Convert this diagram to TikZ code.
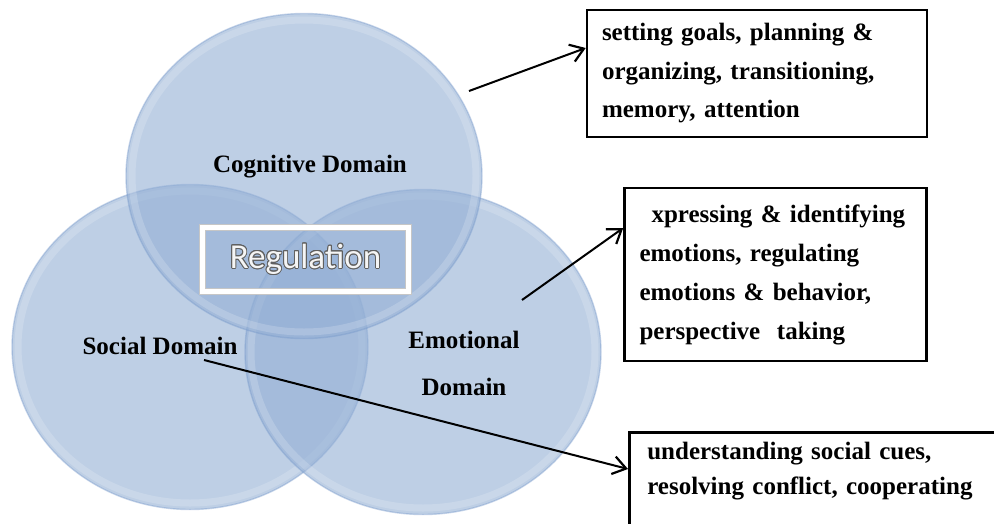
\documentclass[tikz,border=0pt]{standalone}
\usepackage{fontspec}
\setmainfont{Liberation Serif}
\newfontfamily\calibrifont{Carlito}
\usepackage[copies]{contour}
\usetikzlibrary{arrows.meta,shapes.geometric}
\definecolor{domainblue}{RGB}{147,175,213}
\definecolor{rimblue}{RGB}{118,152,202}
\contourlength{0.9pt}
\begin{document}
\begin{tikzpicture}[x=1pt,y=-1pt,>={Straight Barb[length=13pt,width=18pt,line width=2.2pt]},
	domaincircle/.style={ellipse,minimum width=356pt,minimum height=325pt,fill=domainblue,fill opacity=0.6,draw=rimblue,draw opacity=0.4,line width=1.4pt,
		path picture={\draw[white,draw opacity=0.18,line width=7pt] (path picture bounding box.center) ellipse (172 and 156);}},
	domainname/.style={font=\fontsize{25}{47}\selectfont\bfseries,align=center},
	skillbox/.style={draw,line width=2.6pt,font=\fontsize{25}{38.5}\selectfont\bfseries,align=left,inner xsep=15pt},
	pointer/.style={->,line width=2pt}]
	\useasboundingbox (0,0) rectangle (994,523);
	\fill[white] (0,0) rectangle (994,523);
	% the three domains
	\node[domaincircle] (soc) at (190,347) {};
	\node[domaincircle] (emo) at (423,352) {};
	\node[domaincircle] (cog) at (304,176) {};
	\node[domainname] (cogname) at (310,166.5) {Cognitive Domain};
	\node[domainname] (socname) at (160,345.5) {Social Domain};
	\node[domainname] (emoname) at (464,363) {Emotional\\Domain};
	% regulation in the middle
	\node[draw=gray!45,double=white,double distance=5pt,line width=0.8pt,minimum width=206pt,minimum height=64pt,
		font=\calibrifont\fontsize{35}{40}\selectfont] (reg) at (305.5,259.5) {\contour{gray!75!black}{\textcolor{gray!8}{Regulation}}};
	% skills
	\node[skillbox,text width=310pt,minimum height=127pt] (goals) at (757,73.5)
		{setting goals, planning \&\\organizing, transitioning,\\memory, attention};
	\node[skillbox,text width=272pt,minimum height=173pt,font=\fontsize{25}{39}\selectfont\bfseries] (feelings) at (775.5,274.5)
		{\hspace*{12pt}xpressing \& identifying\\emotions, regulating\\emotions \& behavior,\\perspective\ \ taking};
	\node[skillbox,anchor=north west,inner xsep=18pt,inner ysep=10pt,text width=360pt,text depth=80pt,
		font=\fontsize{25}{35}\selectfont\bfseries] (cues) at (628,431)
		{understanding social cues,\\resolving conflict, cooperating};
	\coordinate (cogfrom) at (469,91);
	\coordinate (emofrom) at (522,300);
	\coordinate (socfrom) at (204,360);
	\draw[pointer] (cogfrom) -- ([yshift=25.5pt]goals.west);
	\draw[pointer] (emofrom) -- ([yshift=46.5pt]feelings.west);
	\draw[pointer] (socfrom) -- ([yshift=-38pt]cues.north west);
\end{tikzpicture}
\end{document}
